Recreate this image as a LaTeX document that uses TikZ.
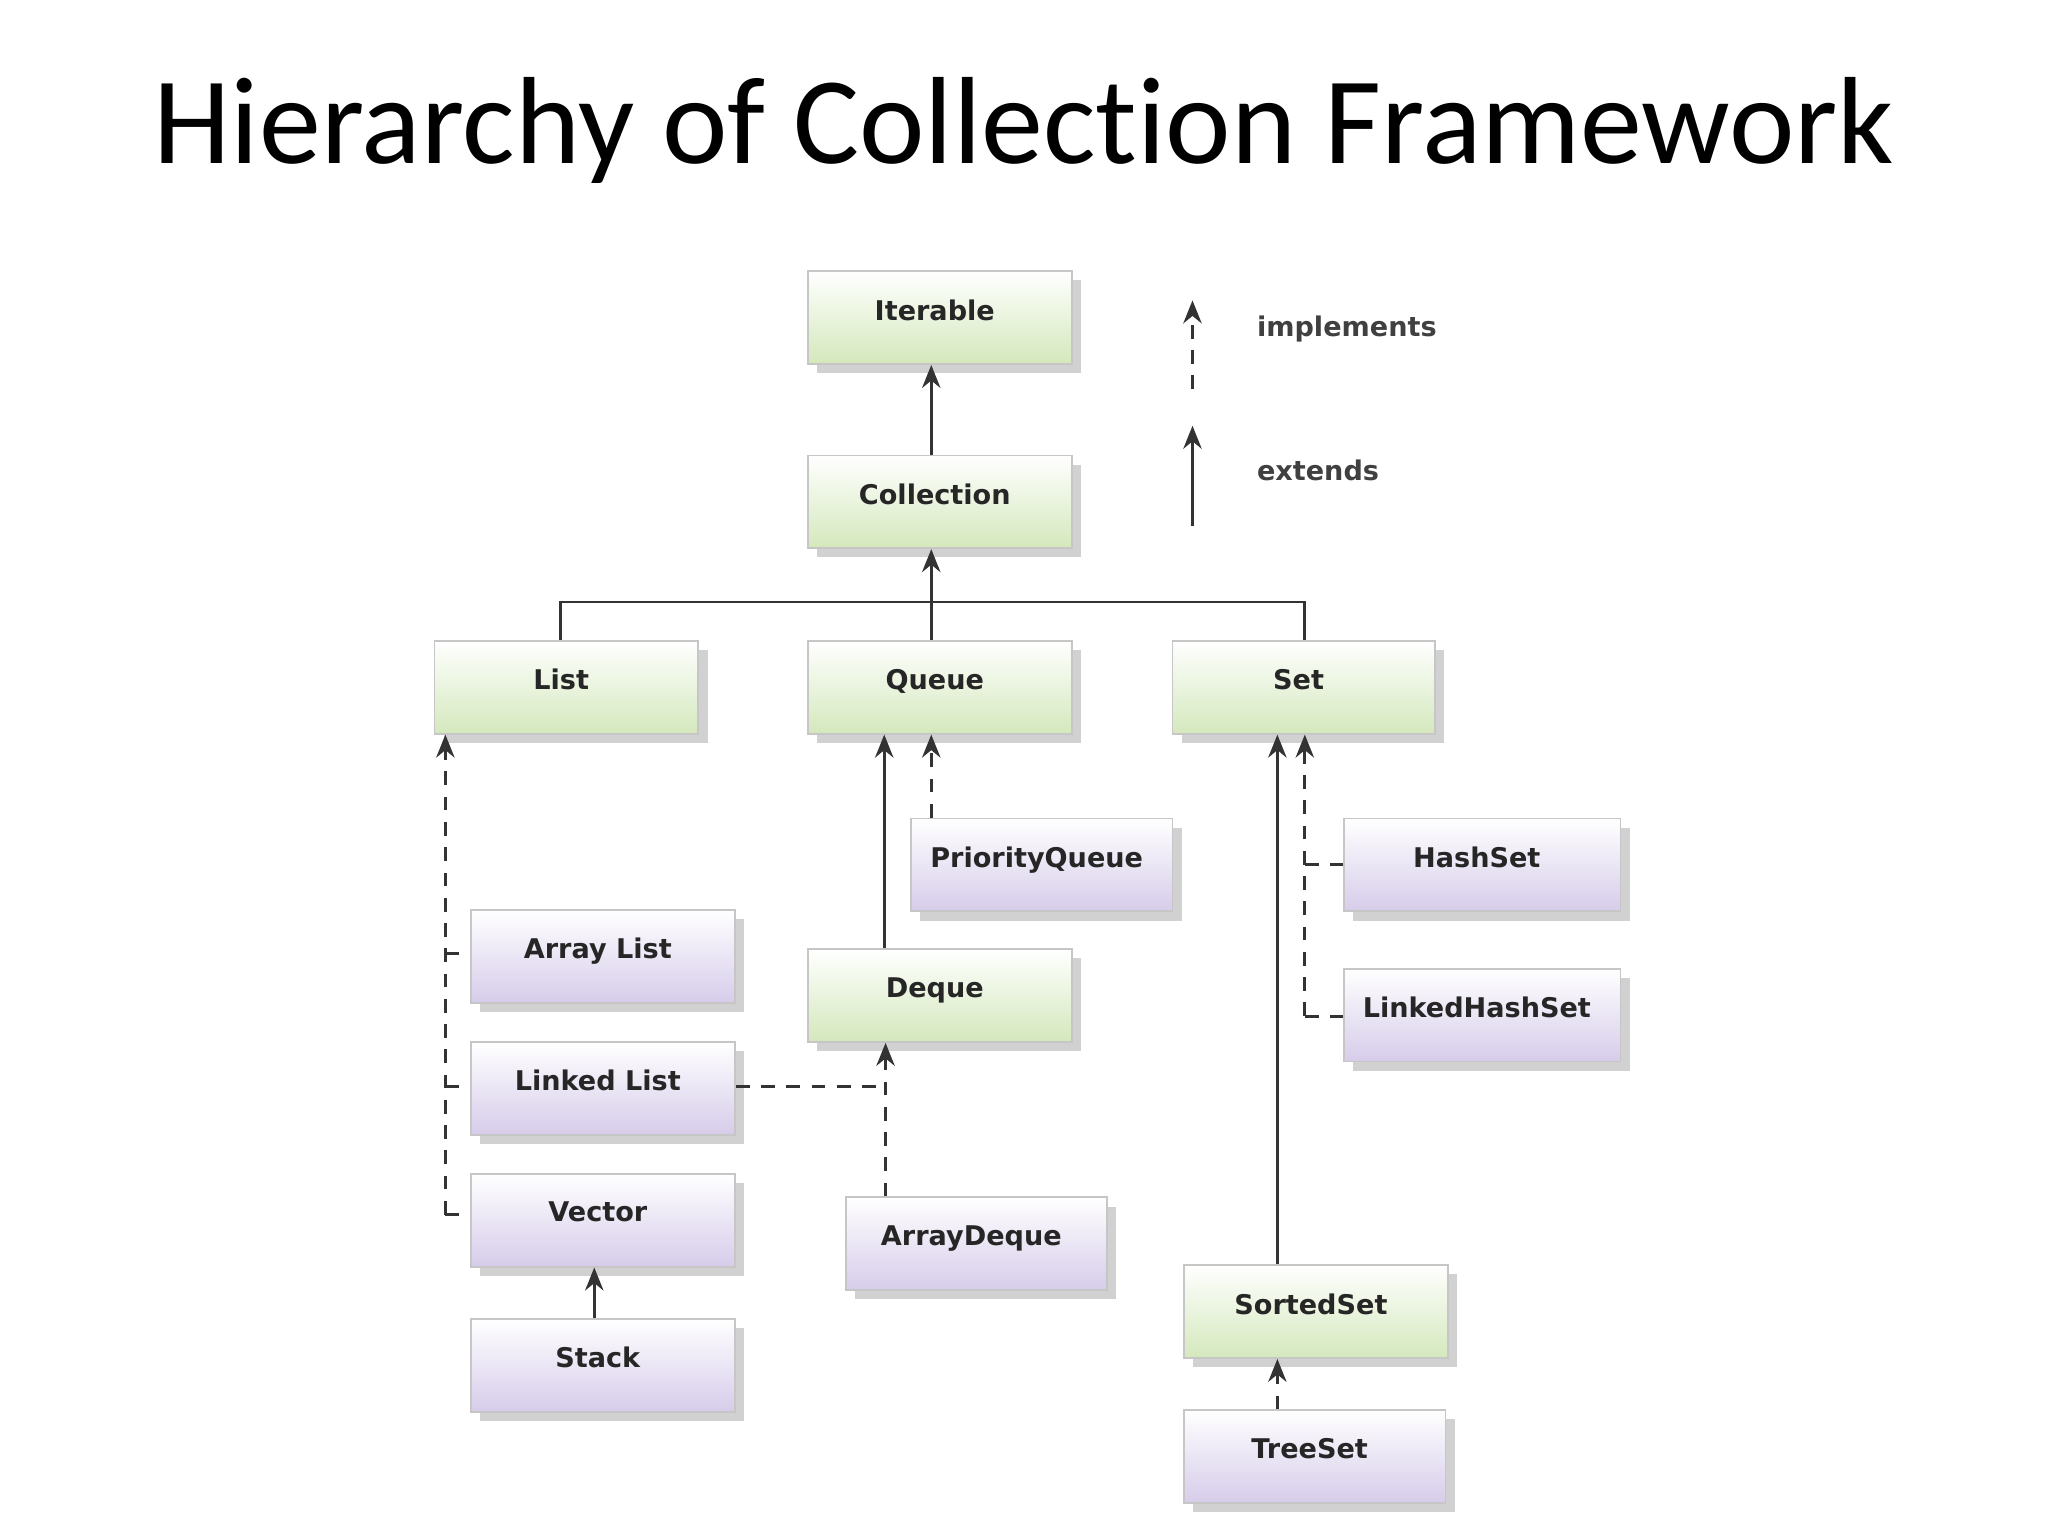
\documentclass[tikz,border=0pt]{standalone}
\usepackage{fontspec}
\newfontfamily\titlefont[Ligatures=NoCommon]{Carlito}
\newfontfamily\boxfont{DejaVu Sans}
\usetikzlibrary{arrows.meta,shadows}
\definecolor{gbot}{RGB}{212,232,188}
\definecolor{pbot}{RGB}{214,204,234}
\tikzset{
 bx/.style={draw=gray!45,line width=0.4pt,drop shadow={shadow xshift=2pt,shadow yshift=-2pt,fill=gray!60,opacity=.6},top color=white,minimum width=2.02cm,minimum height=0.71cm,anchor=north west,inner sep=0pt},
 gbox/.style={bx,bottom color=gbot},
 pbox/.style={bx,bottom color=pbot},
 lab/.style={font=\boxfont\bfseries\fontsize{5.9}{7}\selectfont,text=black!85,anchor=north},
 ar/.style={-{Stealth[length=5pt,width=4pt]},line width=0.6pt,black!80},
 ln/.style={line width=0.6pt,black!80},
 dsh/.style={dash pattern=on 3pt off 2.5pt}
}
\begin{document}
\begin{tikzpicture}[x=0.01cm,y=-0.01cm]
\useasboundingbox (0,0) rectangle (1568,1176);
\node[anchor=center,font=\titlefont\fontsize{27}{32}\selectfont] (title) at (784,100) {Hierarchy of Collection Framework};
\newcommand\bx[6]{\node[#1,minimum width=#4*0.01cm] (#2) at (#3) {}; \node[lab] (#2t) at ([yshift=-0.1cm,xshift=-0.04cm]#2.north) {#5};}
\bx{gbox}{iter}{618,207}{202}{Iterable}{}
\bx{gbox}{coll}{618,348}{202}{Collection}{}
\bx{gbox}{list}{332,490}{202}{List}{}
\bx{gbox}{queue}{618,490}{202}{Queue}{}
\bx{gbox}{set}{897,490}{201}{Set}{}
\bx{pbox}{pq}{697,626}{200}{PriorityQueue}{}
\bx{pbox}{al}{360,696}{202}{Array List}{}
\bx{pbox}{ll}{360,797}{202}{Linked List}{}
\bx{pbox}{vec}{360,898}{202}{Vector}{}
\bx{pbox}{stack}{360,1009}{202}{Stack}{}
\bx{gbox}{deque}{618,726}{202}{Deque}{}
\bx{pbox}{ad}{647,916}{200}{ArrayDeque}{}
\bx{pbox}{hs}{1028,626}{212}{HashSet}{}
\bx{pbox}{lhs}{1028,741}{212}{LinkedHashSet}{}
\bx{gbox}{ss}{906,968}{202}{SortedSet}{}
\bx{pbox}{ts}{906,1079}{200}{TreeSet}{}
% extends
\draw[ar] (coll.north -| 713,0) -- (iter.south -| 713,0);
\draw[ar] (queue.north -| 713,0) -- (coll.south -| 713,0);
\draw[ln] (list.north -| 429,0) -- (429,461) -- (999,461) -- (set.north -| 999,0);
\draw[ar] (deque.north -| 677,0) -- (queue.south -| 677,0);
\draw[ar] (ss.north -| 978,0) -- (set.south -| 978,0);
\draw[ar] (stack.north -| 455,0) -- (vec.south -| 455,0);
% implements
\coordinate (lc) at (341,930);
\draw[ar,dsh] (lc) -- (list.south -| 341,0);
\draw[ln,dsh] (lc) -- (vec.west |- lc);
\draw[ln,dsh] (341,730) -- (al.west |- 0,730);
\draw[ln,dsh] (341,832) -- (ll.west |- 0,832);
\draw[ar,dsh] (pq.north -| 713,0) -- (queue.south -| 713,0);
\draw[ln,dsh] (ll.east |- 0,832) -- (678,832);
\draw[ar,dsh] (ad.north -| 678,0) -- (deque.south -| 678,0);
\coordinate (sc) at (999,778);
\draw[ar,dsh] (sc) -- (set.south -| 999,0);
\draw[ln,dsh] (sc) -- (lhs.west |- sc);
\draw[ln,dsh] (999,662) -- (hs.west |- 0,662);
\draw[ar,dsh] (ts.north -| 978,0) -- (ss.south -| 978,0);
% legend
\coordinate (i1) at (913,298); \coordinate (i2) at (913,230);
\draw[ar,dsh] (i1) -- (i2);
\node[font=\boxfont\bfseries\fontsize{5.9}{7}\selectfont,text=black!75,anchor=west] (impl) at (950,252) {implements};
\coordinate (e1) at (913,403); \coordinate (e2) at (913,326);
\draw[ar] (e1) -- (e2);
\node[font=\boxfont\bfseries\fontsize{5.9}{7}\selectfont,text=black!75,anchor=west] (ext) at (950,360) {extends};
\end{tikzpicture}
\end{document}
